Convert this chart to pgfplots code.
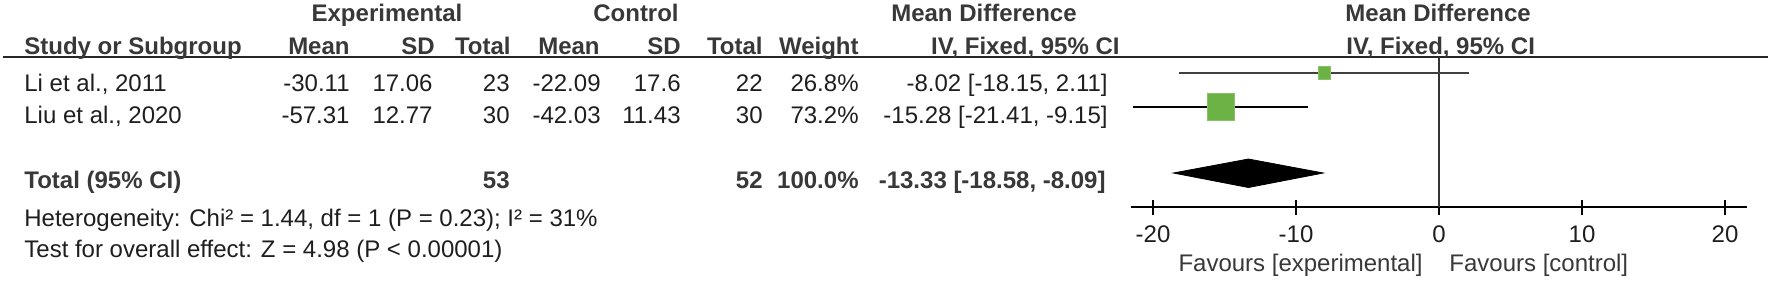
\documentclass[border=0pt]{standalone}
\usepackage{fontspec}
\setmainfont{Liberation Sans}
\usepackage{pgfplots}
\pgfplotsset{compat=1.18}
\definecolor{txt}{HTML}{1E1E1E}
\definecolor{hdr}{HTML}{383838}
\definecolor{sq}{HTML}{6CB244}
\begin{document}
\begin{tikzpicture}[x=0.5pt,y=-0.5pt,
  T/.style={font=\fontsize{12}{14}\selectfont, text=txt, inner sep=0pt},
  B/.style={font=\fontsize{12}{14}\selectfont\bfseries, text=hdr, inner sep=0pt}]
\useasboundingbox (0,0) rectangle (1772,281);
\coordinate (A) at (1131,207);
% header rule
\draw[line width=1pt, black!85] (3,57) -- (1768,57);
% header row 1
\node[B, anchor=base] at (387,21) {Experimental};
\node[B, anchor=base] at (636,21) {Control};
\node[B, anchor=base] at (984,21) {Mean Difference};
\node[B, anchor=base west] at (1345,21) {Mean Difference};
% header row 2
\node[B, anchor=base west] at (24,54) {Study or Subgroup};
\node[B, anchor=base east] at (350,54) {Mean};
\node[B, anchor=base east] at (435,54) {SD};
\node[B, anchor=base east] at (511,54) {Total};
\node[B, anchor=base east] at (600,54) {Mean};
\node[B, anchor=base east] at (681,54) {SD};
\node[B, anchor=base east] at (763,54) {Total};
\node[B, anchor=base east] at (859,54) {Weight};
\node[B, anchor=base east] at (1120,54) {IV, Fixed, 95\% CI};
\node[B, anchor=base west] at (1346,54) {IV, Fixed, 95\% CI};
% study rows
\node[T, anchor=base west] at (24,91) {Li et al., 2011};
\node[T, anchor=base east] at (350,91) {-30.11};
\node[T, anchor=base east] at (433,91) {17.06};
\node[T, anchor=base east] at (510,91) {23};
\node[T, anchor=base east] at (601,91) {-22.09};
\node[T, anchor=base east] at (681,91) {17.6};
\node[T, anchor=base east] at (763,91) {22};
\node[T, anchor=base east] at (859,91) {26.8\%};
\node[T, anchor=base east] at (1108,91) {-8.02 [-18.15, 2.11]};
\node[T, anchor=base west] at (24,123) {Liu et al., 2020};
\node[T, anchor=base east] at (350,123) {-57.31};
\node[T, anchor=base east] at (433,123) {12.77};
\node[T, anchor=base east] at (510,123) {30};
\node[T, anchor=base east] at (601,123) {-42.03};
\node[T, anchor=base east] at (681,123) {11.43};
\node[T, anchor=base east] at (763,123) {30};
\node[T, anchor=base east] at (859,123) {73.2\%};
\node[T, anchor=base east] at (1108,123) {-15.28 [-21.41, -9.15]};
% total row
\node[B, anchor=base west] at (24,188) {Total (95\% CI)};
\node[B, anchor=base east] at (510,188) {53};
\node[B, anchor=base east] at (763,188) {52};
\node[B, anchor=base east] at (859,188) {100.0\%};
\node[B, anchor=base east] at (1106,188) {-13.33 [-18.58, -8.09]};
\node[T, anchor=base west] at (24,226) {Heterogeneity: Chi² = 1.44, df = 1 (P = 0.23); I² = 31\%};
\node[T, anchor=base west] at (24,257) {Test for overall effect: Z = 4.98 (P < 0.00001)};
% favours
\node[T, text=hdr, anchor=base east] at (1423,271) {Favours [experimental]};
\node[T, text=hdr, anchor=base west] at (1449,271) {Favours [control]};
% forest plot
\begin{axis}[at={(A)}, anchor=south west,
  scale only axis, width=308pt, height=75pt,
  xmin=-21.54, xmax=21.54, ymin=-207, ymax=-57,
  axis x line*=bottom, hide y axis, clip=false,
  x axis line style={-, line width=1.4pt, black},
  xtick={-20,-10,0,10,20}, xticklabels={-20,-10,0,10,20},
  tick align=center, major tick length=7.5pt,
  x tick style={line width=1.1pt, black},
  xticklabel style={font=\fontsize{12}{14}\selectfont, text=txt, anchor=base, yshift=-14pt}]
\addplot[line width=1pt, black!80] coordinates {(0,-57) (0,-207)};
\addplot[line width=1pt, black!75] coordinates {(-18.15,-73) (2.11,-73)};
\addplot[line width=1.2pt, black] coordinates {(-21.41,-107) (-9.15,-107)};
\addplot[only marks, mark=square*, mark size=3.2pt, mark options={fill=sq, draw=sq!80!white, line width=0.3pt}] coordinates {(-8.02,-73)};
\addplot[only marks, mark=square*, mark size=6.8pt, mark options={fill=sq, draw=sq!80!white, line width=0.3pt}] coordinates {(-15.28,-107)};
\addplot[fill=black, draw=black] coordinates {(-18.58,-173) (-13.33,-159) (-8.09,-173) (-13.33,-187.5)} -- cycle;
\end{axis}
\end{tikzpicture}
\end{document}
